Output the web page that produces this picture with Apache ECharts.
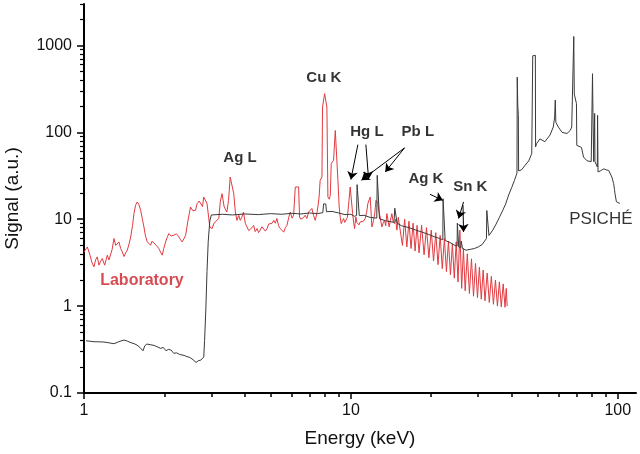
<!DOCTYPE html>
<html><head><meta charset="utf-8">
<script src="https://cdn.jsdelivr.net/npm/echarts@6/dist/echarts.min.js"></script>
<style>html,body{margin:0;padding:0;background:#fff}#c{width:640px;height:454px}</style>
</head><body><div id="c"></div>
<script>
const FONT = '"Liberation Sans", Arial, sans-serif';
const xMajorTicks = [1, 10, 100];
const xMinorTicks = [2, 3, 4, 5, 6, 7, 8, 9, 20, 30, 40, 50, 60, 70, 80, 90];
const yMajorTicks = [0.1, 1, 10, 100, 1000];
const yMinorTicks = [0.2, 0.3, 0.4, 0.5, 0.6, 0.7, 0.8, 0.9, 2, 3, 4, 5, 6, 7, 8, 9,
  20, 30, 40, 50, 60, 70, 80, 90, 200, 300, 400, 500, 600, 700, 800, 900, 2000, 3000];

// Laboratory spectrum [energy keV, signal a.u.]
const laboratory = [
[1.00,4.2],[1.029,4.8],[1.053,3.86],[1.07,3.2],[1.09,2.83],[1.105,3.4],[1.121,3.69],[1.138,2.96],[1.155,3.3],[1.171,3.53],
[1.195,2.96],[1.223,3.86],[1.24,3.4],[1.259,3.23],[1.275,4.5],[1.295,6.0],[1.315,5.0],[1.332,5.26],[1.352,5.48],[1.372,4.6],
[1.392,4.21],[1.412,3.72],[1.432,4.1],[1.453,4.40],[1.475,5.2],[1.496,6.26],[1.52,8.5],[1.539,11.6],[1.56,14.5],[1.583,15.8],
[1.605,14.8],[1.63,12.7],[1.655,10],[1.677,8.15],[1.70,6.4],[1.726,5.5],[1.75,5.3],[1.776,5.02],[1.80,5.6],[1.828,5.48],
[1.865,5.0],[1.907,4.6],[1.935,4.2],[1.964,3.86],[1.99,4.6],[2.022,5.48],[2.05,6.2],[2.081,6.85],[2.12,6.4],[2.172,6.55],
[2.22,6.8],[2.269,6.26],[2.30,5.8],[2.333,5.48],[2.37,6.0],[2.403,6.55],[2.45,9.5],[2.507,13.8],[2.56,12.5],[2.617,12.7],
[2.654,15.1],[2.70,16.2],[2.735,15.8],[2.78,14.0],[2.81,18.0],[2.855,18.9],[2.89,15.2],[2.96,8.15],[3.02,7.8],[3.06,8.8],
[3.10,9.3],[3.20,10.2],[3.24,15.8],[3.29,19.7],[3.35,13.9],[3.43,12.1],[3.48,16.5],[3.53,30.6],[3.58,32],[3.64,19.7],
[3.69,12.1],[3.74,9.7],[3.80,11.1],[3.85,9.7],[3.90,10.5],[3.96,12.1],[4.02,9.0],[4.08,8.15],[4.14,7.4],[4.20,7.1],
[4.26,8.0],[4.32,8.5],[4.38,7.2],[4.45,7.8],[4.51,7.0],[4.57,7.5],[4.64,8.2],[4.71,8.5],[4.78,7.3],[4.85,7.8],
[4.92,8.8],[4.99,8.5],[5.07,9.0],[5.14,9.7],[5.21,9.0],[5.28,10.2],[5.36,8.4],[5.44,7.8],[5.52,7.6],[5.60,7.1],
[5.68,8.0],[5.76,8.5],[5.85,10.5],[5.93,12.1],[6.02,10.3],[6.10,11.1],[6.19,23.5],[6.37,23.5],[6.42,10.6],[6.49,10.0],
[6.55,9.7],[6.64,10.4],[6.74,11.1],[6.84,10.2],[6.94,12.1],[7.04,11.5],[7.14,13.3],[7.25,11.0],[7.35,9.7],[7.45,11.5],
[7.52,13.9],[7.60,18],[7.67,28],[7.79,30.6],[7.83,195],[7.97,279],[8.13,195],[8.20,18],[8.30,17.0],[8.37,18.9],
[8.44,43.7],[8.61,47.7],[8.74,105],[8.86,110],[8.94,28],[9.04,13.9],[9.12,10.5],[9.20,8.9],[9.30,9.6],[9.39,10.2],
[9.48,9.2],[9.58,8.9],[9.70,10.5],[9.80,14.5],[9.94,23.5],[10.09,22.5],[10.15,11.6],[10.25,9.0],[10.32,7.8],[10.44,10.6],
[10.53,9.2],[10.62,9.7],[10.72,8.6],[10.83,9.3],[11.0,8.9],[11.15,9.5],[11.31,10.2],[11.45,12.0],[11.58,15.2],[11.81,18.0],
[11.99,8.15],[12.16,9.7],[12.30,12.0],[12.41,16.5],[12.62,15.2],[12.75,12.0],[12.87,10.6],[13.06,8.15],[13.2,9.0],[13.37,9.7],
[13.5,8.4],[13.64,11.6],[13.91,8.15],[14.05,9.6],[14.24,11.6],[14.4,9.4],[14.58,8.9],[14.72,10.0],[14.87,7.5],[15.05,10.5],
[15.3,10.5],[15.6,5.0],[15.9,10.0],[16.2,4.8],[16.5,9.5],[16.8,4.6],[17.1,9.0],[17.4,4.3],[17.7,8.5],[18.0,4.1],
[18.4,8.5],[18.8,3.9],[19.2,8.0],[19.6,3.6],[20.0,7.5],[20.4,3.3],[20.8,7.0],[21.2,3.0],[21.6,6.5],[22.0,2.7],
[22.4,6.0],[22.8,2.5],[23.2,5.6],[23.6,2.3],[24.0,5.2],[24.4,2.1],[24.8,5.5],[25.2,1.9],[25.6,7.5],[26.0,1.6],
[26.4,4.6],[26.8,1.5],[27.3,4.0],[27.8,1.4],[28.3,3.5],[28.8,1.3],[29.3,3.1],[29.8,1.25],[30.3,2.8],[30.8,1.2],
[31.3,2.6],[31.8,1.15],[32.4,2.4],[33.0,1.1],[33.6,2.2],[34.2,1.05],[34.8,2.0],[35.4,1.0],[36.0,1.9],[36.6,0.98],
[37.2,1.8],[37.8,0.97],[38.2,1.6],[38.5,1.0]
];

// PSICHE spectrum [energy keV, signal a.u.]
const psiche = [
[1.017,0.399],[1.05,0.395],[1.09,0.389],[1.14,0.388],[1.188,0.386],[1.24,0.378],[1.295,0.369],[1.35,0.39],[1.412,0.407],[1.455,0.395],
[1.50,0.379],[1.54,0.37],[1.58,0.356],[1.62,0.335],[1.663,0.306],[1.69,0.35],[1.72,0.366],[1.77,0.36],[1.83,0.353],[1.88,0.34],
[1.94,0.326],[1.98,0.335],[2.03,0.306],[2.07,0.318],[2.12,0.312],[2.17,0.286],[2.22,0.29],[2.28,0.278],[2.37,0.271],[2.43,0.262],
[2.49,0.257],[2.56,0.242],[2.63,0.225],[2.68,0.235],[2.74,0.239],[2.78,0.244],[2.81,0.26],[2.83,0.4],[2.86,0.9],[2.89,2.5],
[2.92,5.5],[2.96,9.5],[3.0,11.2],[3.3,11.4],[3.6,11.2],[4.0,11.5],[4.5,11.3],[5.0,11.6],[5.5,11.4],[6.0,11.7],
[6.5,11.5],[7.0,11.8],[7.5,11.6],[7.85,11.9],[7.9,15],[8.05,15],[8.1,12.2],[8.5,12.3],[9.0,11.8],[9.5,11.3],
[10.0,11.4],[10.3,10.8],[10.5,11.0],[10.55,25],[10.7,25],[10.75,11],[11.2,11.1],[11.8,10.5],[12.5,10.3],[12.55,32],
[12.75,32],[12.8,10.1],[13.5,9.6],[14.5,9.2],[14.6,13.4],[14.8,13.4],[14.9,9.0],[15.5,8.4],[16.5,8.0],[17.5,7.5],
[18.5,7.1],[19.5,6.7],[20.5,6.3],[21.5,6.0],[22.1,5.8],[22.15,17.2],[22.5,17.2],[22.55,5.7],[23.5,5.4],[24.5,5.0],
[25.0,4.9],[25.05,9.0],[25.3,9.0],[25.35,4.8],[25.8,4.7],[25.9,5.6],[26.1,5.6],[26.2,4.6],[27.0,4.4],[28.0,4.5],
[29.0,4.6],[30.0,4.8],[31.0,5.1],[32.2,6.0],[32.3,12.6],[32.8,12.6],[32.9,6.5],[34.0,7.5],[35.0,8.8],[36.0,10.5],
[37.0,12.5],[38.0,15.0],[39.0,19.0],[40.0,23],[41.0,28],[41.9,34],[42.0,432],[42.2,200],[42.4,160],[42.5,36],
[43.6,37],[45.0,42],[46.4,47],[47.6,57],[47.9,60],[48.0,760],[49.1,770],[49.2,68],[49.6,74],[51.1,84],
[53.3,78],[55.7,93],[57.3,115],[58.0,150],[58.3,235],[58.6,130],[59.9,115],[61.8,100],[64.5,97],[66.3,105],
[67.2,115],[68.2,118],[68.4,1268],[68.7,275],[70.0,214],[70.2,71],[73.1,67],[74.4,52],[76.7,47],[79.5,46],
[80.3,46],[80.4,473],[80.7,171],[81.1,171],[81.2,46],[81.7,46],[81.9,165],[82.1,46],[83.8,40],[84.0,157],
[84.3,35],[86.0,36],[88.6,38],[90.5,37],[92.5,36.4],[95.0,30.6],[96.5,25.7],[97.2,22],[97.6,19.7],[98.8,15.9],
[100.5,15.5],[101.8,15.2]
];

// Peak annotations: [energy, signal, text]
const peakLabels = [
  [3.84, 50.2, 'Ag L'], [7.92, 429, 'Cu K'], [11.48, 100, 'Hg L'],
  [17.82, 100, 'Pb L'], [19.1, 28.8, 'Ag K'], [28.03, 23.3, 'Sn K']
];
// Arrows: [[fromE, fromS], [toE, toS]]
const arrows = [
  [[10.62, 72.2], [10.0, 28.6]],
  [[11.38, 72.2], [11.65, 28.8]],
  [[15.89, 66.3], [10.95, 28.1]],
  [[15.89, 66.3], [13.45, 35.0]],
  [[19.77, 19.4], [22.1, 16.5]],
  [[26.43, 15.8], [25.32, 10.2]],
  [[26.3, 14.5], [26.43, 7.14]]
];
const labLabel = [[1.649, 1.99, 'Laboratory']];
const psicheLabel = [[86.4, 10.0, 'PSICHÉ']];

const chart = echarts.init(document.getElementById('c'), null, {renderer: 'canvas'});
const XMIN = 1, XMAX = 117, YMIN = 0.1, YMAX = 3000;
chart.setOption({
  animation: false,
  backgroundColor: '#fff',
  grid: {left: 84, right: 4, top: 4, bottom: 61, containLabel: false, outerBoundsMode: 'none'},
  xAxis: [
    {type: 'log', logBase: 10, min: XMIN, max: XMAX, position: 'bottom',
     axisLine: {show: true, onZero: false, lineStyle: {color: '#000', width: 2}},
     axisTick: {show: true, inside: false, customValues: xMajorTicks, length: 6, lineStyle: {color: '#000', width: 1.5}},
     axisLabel: {show: true, customValues: xMajorTicks, fontSize: 16, color: '#111', margin: 10, fontFamily: FONT},
     splitLine: {show: false}, minorTick: {show: false},
     name: 'Energy (keV)', nameLocation: 'middle', nameGap: 36,
     nameTextStyle: {fontSize: 19, color: '#111', fontFamily: FONT}},
    {type: 'log', logBase: 10, min: XMIN, max: XMAX, position: 'bottom',
     axisLine: {show: false}, axisLabel: {show: false}, splitLine: {show: false},
     axisTick: {show: true, inside: false, customValues: xMinorTicks, length: 4, lineStyle: {color: '#000', width: 1.5}}}
  ],
  yAxis: [
    {type: 'log', logBase: 10, min: YMIN, max: YMAX, position: 'left',
     axisLine: {show: true, onZero: false, lineStyle: {color: '#000', width: 2}},
     axisTick: {show: true, inside: false, customValues: yMajorTicks, length: 7, lineStyle: {color: '#000', width: 1.5}},
     axisLabel: {show: true, customValues: yMajorTicks, fontSize: 16, color: '#111', margin: 12, fontFamily: FONT,
       formatter: v => String(v)},
     splitLine: {show: false}, minorTick: {show: false},
     name: 'Signal (a.u.)', nameLocation: 'middle', nameGap: 62, nameRotate: 90,
     nameTextStyle: {fontSize: 19, color: '#111', fontFamily: FONT}},
    {type: 'log', logBase: 10, min: YMIN, max: YMAX, position: 'left',
     axisLine: {show: false}, axisLabel: {show: false}, splitLine: {show: false},
     axisTick: {show: true, inside: false, customValues: yMinorTicks, length: 4, lineStyle: {color: '#000', width: 1.2}}}
  ],
  series: [
    {name: 'Laboratory', type: 'line', data: laboratory, showSymbol: false, symbol: 'none',
     lineStyle: {color: '#e23a40', width: 1}, silent: true, z: 2},
    {name: 'PSICHÉ', type: 'line', data: psiche, showSymbol: false, symbol: 'none',
     lineStyle: {color: '#3a3a3a', width: 1}, silent: true, z: 3},
    {type: 'scatter', data: peakLabels, symbolSize: 0, silent: true, z: 5,
     label: {show: true, position: 'inside', formatter: p => p.data[2], fontSize: 15,
       fontWeight: 'bold', color: '#000', fontFamily: FONT},
     markLine: {silent: true, symbol: ['none', 'arrow'], symbolSize: 8,
       label: {show: false}, lineStyle: {color: '#000', width: 1, type: 'solid'},
       data: arrows.map(a => [{coord: a[0]}, {coord: a[1]}])}},
    {type: 'scatter', data: labLabel, symbolSize: 0, silent: true, z: 5,
     label: {show: true, position: 'inside', formatter: p => p.data[2], fontSize: 16,
       fontWeight: 'bold', color: '#cc1d26', fontFamily: FONT}},
    {type: 'scatter', data: psicheLabel, symbolSize: 0, silent: true, z: 5,
     label: {show: true, position: 'inside', formatter: p => p.data[2], fontSize: 17,
       color: '#000', fontFamily: FONT}}
  ]
});
</script></body></html>
